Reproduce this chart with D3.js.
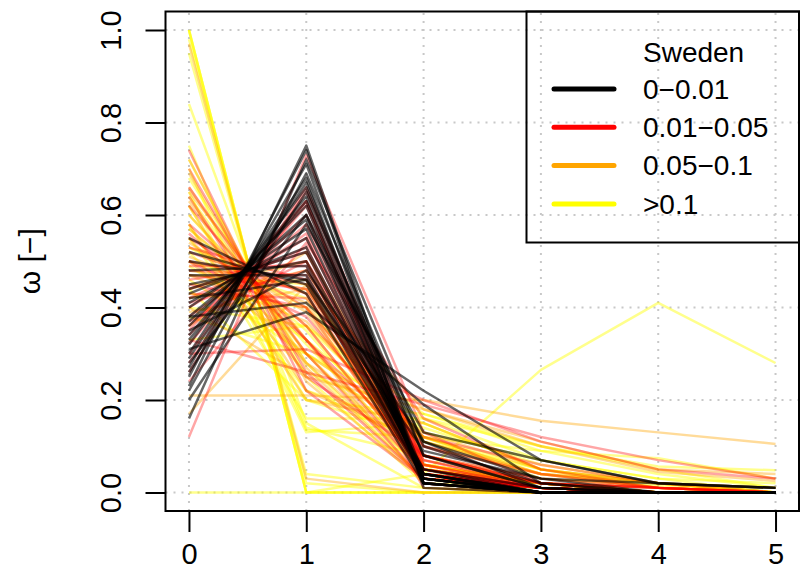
<!DOCTYPE html>
<html>
<head>
<meta charset="utf-8">
<script src="https://cdn.jsdelivr.net/npm/d3@7"></script>
<style>
  body { margin: 0; background: #fff; }
  svg { display: block; font-family: "Liberation Sans", Arial, Helvetica, sans-serif; }
</style>
</head>
<body>
<div id="chart"></div>
<script>
// lag positions on the x axis
const xValues = [0, 1, 2, 3, 4, 5];
const yTicks = [0, 0.2, 0.4, 0.6, 0.8, 1.0];

const legendTitle = "Sweden";
const legendLabels = ["0\u22120.01", "0.01\u22120.05", "0.05\u22120.1", ">0.1"];
const legendColors = ["#000000", "#ff0000", "#ffa500", "#ffff00"];

// one row per line: omega at x = 0..5
const blackLines = [
    [0.23, 0.75, 0.02, 0, 0, 0],
    [0.25, 0.74, 0.01, 0, 0, 0],
    [0.16, 0.72, 0.10, 0.02, 0, 0],
    [0.27, 0.71, 0.02, 0, 0, 0],
    [0.22, 0.69, 0.08, 0.01, 0, 0],
    [0.30, 0.68, 0.02, 0, 0, 0],
    [0.29, 0.67, 0.04, 0, 0, 0],
    [0.32, 0.66, 0.02, 0, 0, 0],
    [0.26, 0.65, 0.08, 0.01, 0, 0],
    [0.33, 0.64, 0.03, 0, 0, 0],
    [0.34, 0.63, 0.03, 0, 0, 0],
    [0.36, 0.62, 0.02, 0, 0, 0],
    [0.37, 0.60, 0.03, 0, 0, 0],
    [0.28, 0.60, 0.11, 0.01, 0, 0],
    [0.38, 0.59, 0.03, 0, 0, 0],
    [0.20, 0.58, 0.13, 0.07, 0.02, 0.01],
    [0.40, 0.57, 0.03, 0, 0, 0],
    [0.41, 0.55, 0.04, 0, 0, 0],
    [0.43, 0.53, 0.04, 0, 0, 0],
    [0.44, 0.52, 0.04, 0, 0, 0],
    [0.45, 0.50, 0.05, 0, 0, 0],
    [0.48, 0.49, 0.03, 0, 0, 0],
    [0.35, 0.48, 0.11, 0.03, 0.02, 0.01],
    [0.47, 0.47, 0.05, 0.01, 0, 0],
    [0.42, 0.46, 0.09, 0.03, 0, 0],
    [0.50, 0.46, 0.04, 0, 0, 0],
    [0.52, 0.45, 0.03, 0, 0, 0],
    [0.55, 0.43, 0.02, 0, 0, 0],
    [0.38, 0.41, 0.19, 0.02, 0, 0],
    [0.31, 0.39, 0.22, 0.07, 0.02, 0.01]
];

const redLines = [
    [0.12, 0.73, 0.13, 0.02, 0, 0],
    [0.74, 0.22, 0.03, 0.01, 0, 0],
    [0.70, 0.26, 0.03, 0.01, 0, 0],
    [0.66, 0.30, 0.03, 0.01, 0, 0],
    [0.62, 0.33, 0.04, 0.01, 0, 0],
    [0.58, 0.36, 0.05, 0.01, 0, 0],
    [0.55, 0.40, 0.04, 0.01, 0, 0],
    [0.52, 0.43, 0.04, 0.01, 0, 0],
    [0.50, 0.45, 0.04, 0.01, 0, 0],
    [0.48, 0.47, 0.04, 0.01, 0, 0],
    [0.46, 0.50, 0.03, 0.01, 0, 0],
    [0.44, 0.52, 0.03, 0.01, 0, 0],
    [0.42, 0.53, 0.04, 0.01, 0, 0],
    [0.40, 0.55, 0.04, 0.01, 0, 0],
    [0.38, 0.56, 0.05, 0.01, 0, 0],
    [0.36, 0.58, 0.05, 0.01, 0, 0],
    [0.34, 0.60, 0.05, 0.01, 0, 0],
    [0.32, 0.62, 0.05, 0.01, 0, 0],
    [0.30, 0.63, 0.06, 0.01, 0, 0],
    [0.28, 0.65, 0.06, 0.01, 0, 0],
    [0.26, 0.66, 0.07, 0.01, 0, 0],
    [0.30, 0.31, 0.20, 0.11, 0.05, 0.03],
    [0.33, 0.26, 0.19, 0.12, 0.07, 0.03],
    [0.45, 0.40, 0.10, 0.04, 0.01, 0],
    [0.50, 0.38, 0.08, 0.03, 0.01, 0],
    [0.56, 0.33, 0.08, 0.02, 0.01, 0],
    [0.64, 0.25, 0.08, 0.02, 0.01, 0],
    [0.41, 0.48, 0.08, 0.02, 0.01, 0],
    [0.47, 0.44, 0.07, 0.02, 0, 0],
    [0.37, 0.50, 0.10, 0.02, 0.01, 0],
    [0.53, 0.46, 0.01, 0, 0, 0],
    [0.49, 0.49, 0.02, 0, 0, 0],
    [0.35, 0.63, 0.02, 0, 0, 0],
    [0.24, 0.54, 0.16, 0.05, 0.01, 0],
    [0.43, 0.42, 0.12, 0.06, 0.02, 0.01]
];

const orangeLines = [
    [0.97, 0.03, 0, 0, 0, 0],
    [0.72, 0.24, 0.03, 0.01, 0, 0],
    [0.69, 0.27, 0.03, 0.01, 0, 0],
    [0.66, 0.28, 0.05, 0.01, 0, 0],
    [0.63, 0.30, 0.05, 0.02, 0, 0],
    [0.60, 0.33, 0.05, 0.02, 0, 0],
    [0.57, 0.36, 0.05, 0.02, 0, 0],
    [0.54, 0.39, 0.05, 0.02, 0, 0],
    [0.51, 0.41, 0.06, 0.02, 0, 0],
    [0.48, 0.44, 0.06, 0.02, 0, 0],
    [0.45, 0.46, 0.07, 0.02, 0, 0],
    [0.42, 0.48, 0.08, 0.02, 0, 0],
    [0.21, 0.21, 0.20, 0.155, 0.13, 0.105],
    [0.17, 0.45, 0.18, 0.11, 0.05, 0.04],
    [0.39, 0.44, 0.11, 0.04, 0.02, 0],
    [0.55, 0.28, 0.12, 0.04, 0.01, 0],
    [0.62, 0.22, 0.11, 0.04, 0.01, 0],
    [0.47, 0.37, 0.10, 0.04, 0.02, 0],
    [0.36, 0.52, 0.08, 0.03, 0.01, 0],
    [0.50, 0.30, 0.13, 0.05, 0.02, 0],
    [0.58, 0.20, 0.15, 0.05, 0.02, 0],
    [0.44, 0.50, 0.05, 0.01, 0, 0],
    [0.53, 0.43, 0.03, 0.01, 0, 0],
    [0.65, 0.33, 0.02, 0, 0, 0],
    [0.40, 0.25, 0.18, 0.10, 0.045, 0.025]
];

const yellowLines = [
    [1.00, 0, 0, 0, 0, 0],
    [1.00, 0, 0, 0, 0, 0],
    [1.00, 0, 0, 0, 0, 0],
    [0.98, 0.02, 0, 0, 0, 0],
    [0.95, 0.04, 0.01, 0, 0, 0],
    [0.84, 0.15, 0.01, 0, 0, 0],
    [0.75, 0.14, 0.08, 0.02, 0.01, 0],
    [0.70, 0.135, 0.12, 0.03, 0.015, 0],
    [0, 0, 0.04, 0.265, 0.41, 0.28],
    [0.72, 0.25, 0.02, 0.01, 0, 0],
    [0.68, 0.28, 0.03, 0.01, 0, 0],
    [0.65, 0.13, 0.15, 0.05, 0.02, 0],
    [0.62, 0.20, 0.12, 0.04, 0.02, 0],
    [0.60, 0.32, 0.06, 0.02, 0, 0],
    [0.57, 0.35, 0.06, 0.02, 0, 0],
    [0.55, 0.22, 0.14, 0.06, 0.02, 0.01],
    [0.53, 0.40, 0.05, 0.02, 0, 0],
    [0.50, 0.42, 0.06, 0.02, 0, 0],
    [0.47, 0.45, 0.06, 0.02, 0, 0],
    [0.44, 0.20, 0.17, 0.10, 0.056, 0.048],
    [0.46, 0.30, 0.13, 0.07, 0.03, 0.02],
    [0.40, 0.36, 0.12, 0.09, 0.074, 0.03],
    [0.33, 0.36, 0.17, 0.09, 0.04, 0.01],
    [0.52, 0.26, 0.15, 0.05, 0.02, 0],
    [0.58, 0.16, 0.16, 0.07, 0.03, 0],
    [0.49, 0.33, 0.12, 0.05, 0.01, 0],
    [0.43, 0.40, 0.11, 0.05, 0.01, 0],
    [0.38, 0.30, 0.16, 0.10, 0.05, 0.01],
    [0.64, 0.30, 0.04, 0.02, 0, 0]
];

const width = 800, height = 586;
const svg = d3.select("#chart").append("svg")
    .attr("width", width)
    .attr("height", height);

// R style: 4% padding on both axes
const x = d3.scaleLinear().domain([-0.2, 5.2]).range([165.5, 799]);
const y = d3.scaleLinear().domain([-0.04, 1.04]).range([511, 11.5]);

// dotted grid
const grid = svg.append("g")
    .attr("stroke", "#c8c8c8")
    .attr("stroke-width", 2)
    .attr("stroke-dasharray", "2,6");
grid.selectAll(".gx").data(xValues).enter().append("line")
    .attr("x1", d => x(d)).attr("x2", d => x(d))
    .attr("y1", y.range()[0]).attr("y2", y.range()[1]);
grid.selectAll(".gy").data(yTicks).enter().append("line")
    .attr("x1", x.range()[0]).attr("x2", x.range()[1])
    .attr("y1", d => y(d)).attr("y2", d => y(d));

const line = d3.line()
    .x((d, i) => x(xValues[i]))
    .y(d => y(d));

const groups = [
    { data: yellowLines, color: "rgba(255,255,0,0.45)" },
    { data: orangeLines, color: "rgba(255,165,0,0.4)" },
    { data: redLines, color: "rgba(255,0,0,0.35)" },
    { data: blackLines, color: "rgba(0,0,0,0.6)" }
];

groups.forEach(g => {
    svg.append("g").selectAll("path")
        .data(g.data)
        .enter().append("path")
        .attr("fill", "none")
        .attr("stroke", g.color)
        .attr("stroke-width", 2.5)
        .attr("stroke-linejoin", "round")
        .attr("d", line);
});

// box
svg.append("rect")
    .attr("x", x.range()[0]).attr("y", y.range()[1])
    .attr("width", x.range()[1] - x.range()[0])
    .attr("height", y.range()[0] - y.range()[1])
    .attr("fill", "none")
    .attr("stroke", "#000")
    .attr("stroke-width", 2);

// axes
const xAxis = svg.append("g")
    .attr("transform", `translate(0,${y.range()[0]})`)
    .call(d3.axisBottom(x).tickValues(xValues).tickSize(21).tickFormat(d3.format("d")));
xAxis.select(".domain").remove();
xAxis.selectAll(".tick line").attr("stroke-width", 2);
xAxis.selectAll(".tick text")
    .attr("y", 53).attr("dy", null)
    .attr("font-size", 29).attr("fill", "#000");

const yAxis = svg.append("g")
    .attr("transform", `translate(${x.range()[0]},0)`)
    .call(d3.axisLeft(y).tickValues(yTicks).tickSize(20).tickFormat(d3.format(".1f")));
yAxis.select(".domain").remove();
yAxis.selectAll(".tick line").attr("stroke-width", 2);
yAxis.selectAll(".tick text")
    .attr("x", null).attr("dy", null)
    .attr("text-anchor", "middle")
    .attr("transform", "translate(-45,0) rotate(-90)")
    .attr("font-size", 29).attr("fill", "#000");

svg.append("text")
    .attr("transform", `translate(40,${(y.range()[0] + y.range()[1]) / 2}) rotate(-90)`)
    .attr("text-anchor", "middle")
    .attr("font-size", 30)
    .text("\u03c9 [\u2212]");

// legend
const legend = svg.append("g");
legend.append("rect")
    .attr("x", 526.5).attr("y", 11.5)
    .attr("width", 799 - 526.5).attr("height", 231)
    .attr("fill", "none")
    .attr("stroke", "#000")
    .attr("stroke-width", 2);
legend.append("text")
    .attr("x", 643).attr("y", 52).attr("dy", "0.35em")
    .attr("font-size", 28)
    .text(legendTitle);
const rows = legend.selectAll(".row")
    .data(legendLabels)
    .enter().append("g")
    .attr("transform", (d, i) => `translate(0,${89 + i * 38.3})`);
rows.append("line")
    .attr("x1", 554).attr("x2", 614)
    .attr("stroke", (d, i) => legendColors[i])
    .attr("stroke-width", 5)
    .attr("stroke-linecap", "round");
rows.append("text")
    .attr("x", 643).attr("dy", "0.35em")
    .attr("font-size", 28)
    .text(d => d);
</script>
</body>
</html>
